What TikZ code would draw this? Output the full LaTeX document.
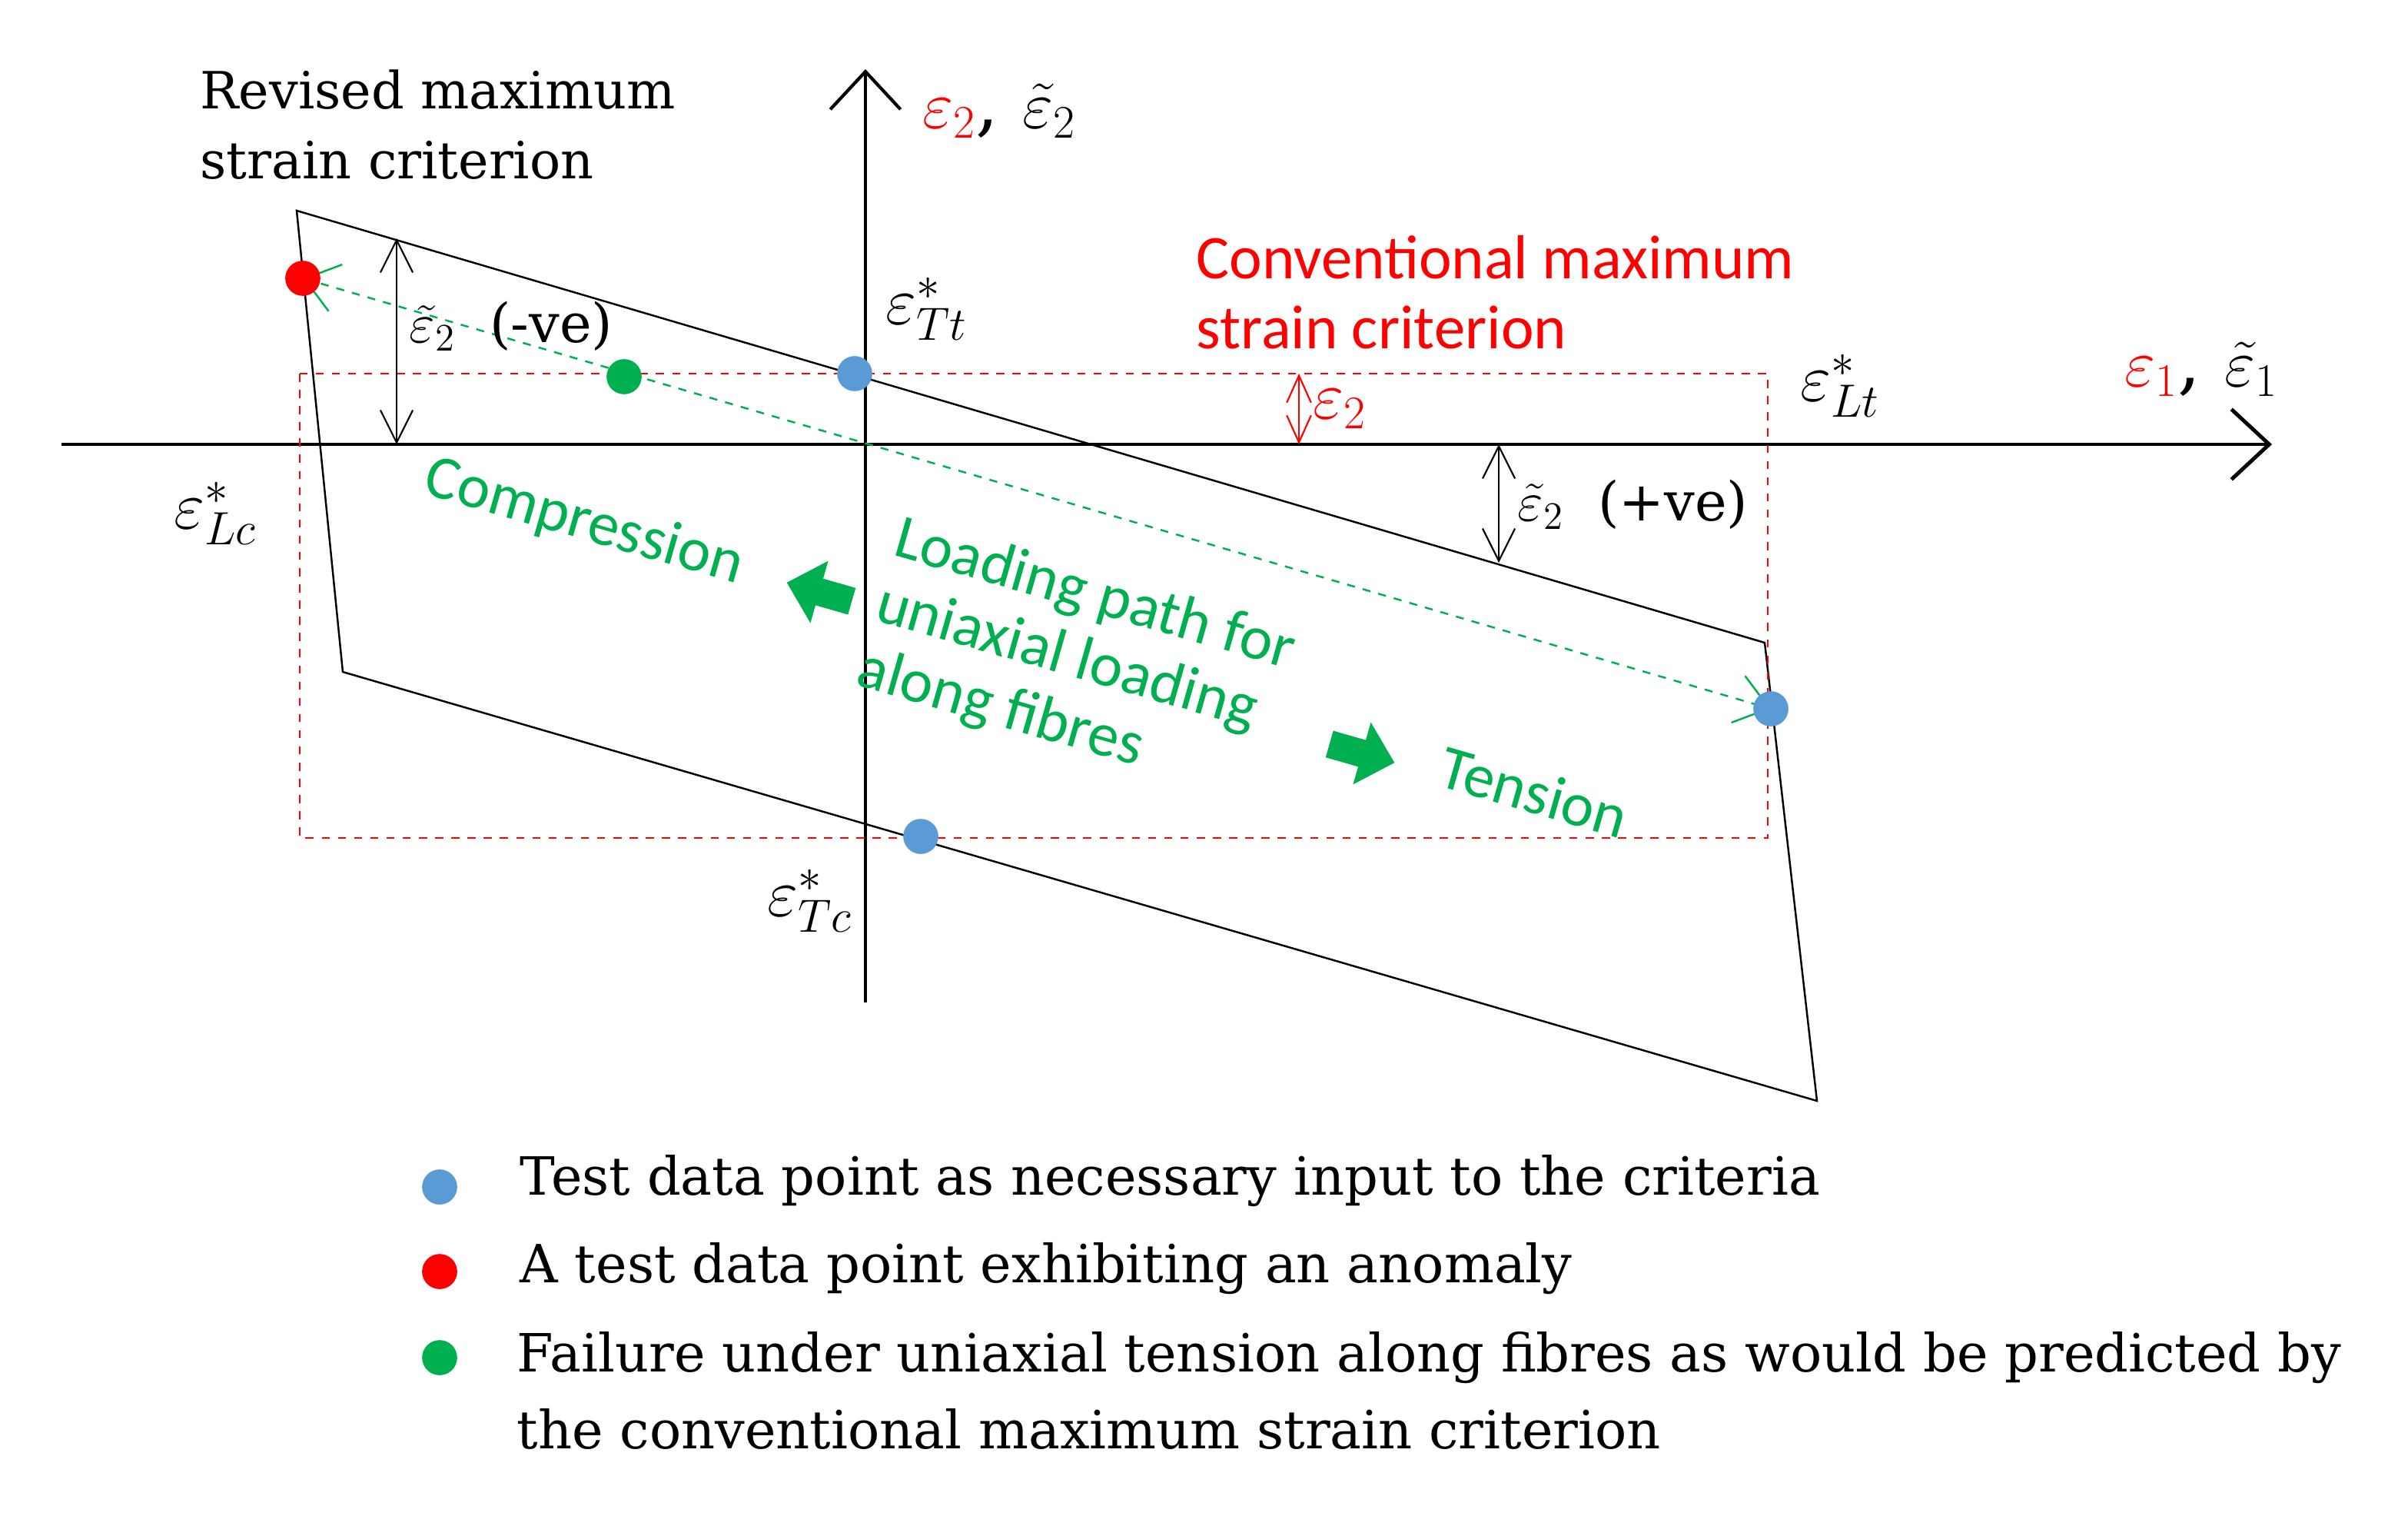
\documentclass[tikz,border=0pt]{standalone}
\usepackage{fontspec}
\setmainfont{DejaVu Serif}
\newfontfamily\calib{Carlito}
\usetikzlibrary{arrows.meta}
\definecolor{gr}{RGB}{0,176,80}
\definecolor{bl}{RGB}{91,155,213}
\definecolor{rd}{RGB}{255,0,0}
\begin{document}
\begin{tikzpicture}[x=0.02cm,y=-0.02cm,
  dot/.style={circle,inner sep=0,minimum size=13},
  dim/.style={{Straight Barb[length=12,width=12]}-{Straight Barb[length=12,width=12]},line width=0.6pt},
  lbl/.style={inner sep=0,font=\fontsize{20}{24}\selectfont},
  mth/.style={inner sep=0,font=\fontsize{27}{27}\selectfont},
  gtxt/.style={text=gr,inner sep=0,font=\calib\fontsize{23}{25}\selectfont,rotate=-16,align=left},
  blk/.style={fill=gr}]
\useasboundingbox (0,0) rectangle (1566.5,985.5);
% axes
\coordinate (xa) at (40,289); \coordinate (xb) at (1478,289);
\coordinate (ya) at (563,652); \coordinate (yb) at (563,45);
\draw[line width=1.4pt,-{Straight Barb[length=14,width=26]}] (xa) -- (xb);
\draw[line width=1.2pt,-{Straight Barb[length=14,width=26]}] (ya) -- (yb);
% parallelogram
\coordinate (p1) at (193,137); \coordinate (p2) at (1148,418);
\coordinate (p3) at (1182,716); \coordinate (p4) at (223,437);
\draw[line width=0.7pt] (p1) -- (p2) -- (p3) -- (p4) -- cycle;
% red dashed rectangle
\draw[rd,dashed,line width=0.7pt] (195,243) rectangle (1150,545);
% loading path
\coordinate (lpa) at (1152,461); \coordinate (lpb) at (197,181);
\draw[gr,dashed,line width=0.7pt,{Straight Barb[length=12,width=18]}-{Straight Barb[length=12,width=18]}] (lpb) -- (lpa);
% dim arrows
\draw[dim] (258,155) -- (258,289);
\draw[dim] (975,289) -- (975,366);
\draw[dim,rd,{Straight Barb[length=10,width=9]}-{Straight Barb[length=10,width=9]}] (845,243) -- (845,289);
% dots
\node[dot,fill=rd] (dr) at (197,181) {};
\node[dot,fill=gr] (dg) at (406,245) {};
\node[dot,fill=bl] (db1) at (556,243) {};
\node[dot,fill=bl] (db2) at (1152,461) {};
\node[dot,fill=bl] (db3) at (599,544) {};
% labels
\node[lbl,anchor=west,align=left,font=\fontsize{19}{26}\selectfont] (rev) at (130,81) {Revised maximum\\strain criterion};
\node[lbl,anchor=west,text=rd,font=\calib\fontsize{23}{26}\selectfont,align=left] (conv) at (778,190) {Conventional maximum\\strain criterion};
\node[mth] (ax2) at (650,72) {$\color{rd}\varepsilon_2$, $\tilde\varepsilon_2$};
\node[mth] (ax1) at (1432,240) {$\color{rd}\varepsilon_1$, $\tilde\varepsilon_1$};
\node[mth] (tt) at (603,201) {$\varepsilon^{*}_{Tt}$};
\node[mth] (lt) at (1197,251) {$\varepsilon^{*}_{Lt}$};
\node[mth] (lc) at (140,334) {$\varepsilon^{*}_{Lc}$};
\node[mth] (tc) at (527,586) {$\varepsilon^{*}_{Tc}$};
\node[lbl,anchor=west] (nve) at (266,212) {$\tilde\varepsilon_2$ \ (-ve)};
\node[lbl,anchor=west] (pve) at (987,328) {$\tilde\varepsilon_2$ \ (+ve)};
\node[mth,anchor=west,text=rd] (e2) at (854,266) {$\varepsilon_2$};
% green texts
\node[gtxt] (comp) at (380,340) {Compression};
\node[gtxt] (lp) at (700,430) {Loading path for\\uniaxial loading\\along fibres};
\node[gtxt] (ten) at (998,515) {Tension};
% block arrows
\begin{scope}[shift={(886,490)},rotate=-16]
\fill[blk] (-22,-9) -- (0,-9) -- (0,-21) -- (22,0) -- (0,21) -- (0,9) -- (-22,9) -- cycle;
\end{scope}
\begin{scope}[shift={(533,385)},rotate=-16]
\fill[blk] (22,-9) -- (0,-9) -- (0,-21) -- (-22,0) -- (0,21) -- (0,9) -- (22,9) -- cycle;
\end{scope}
% legend
\node[dot,fill=bl] (l1) at (286,772) {};
\node[dot,fill=rd] (l2) at (286,827) {};
\node[dot,fill=gr] (l3) at (286,883) {};
\begin{scope}[every node/.style={lbl,anchor=west,font=\fontsize{19.5}{28.5}\selectfont}]
\node (t1) at (338,768) {Test data point as necessary input to the criteria};
\node (t2) at (338,825) {A test data point exhibiting an anomaly};
\node[align=left,anchor=north west] (t3) at (336,866) {Failure under uniaxial tension along fibres as would be predicted by\\the conventional maximum strain criterion};
\end{scope}
\end{tikzpicture}
\end{document}
